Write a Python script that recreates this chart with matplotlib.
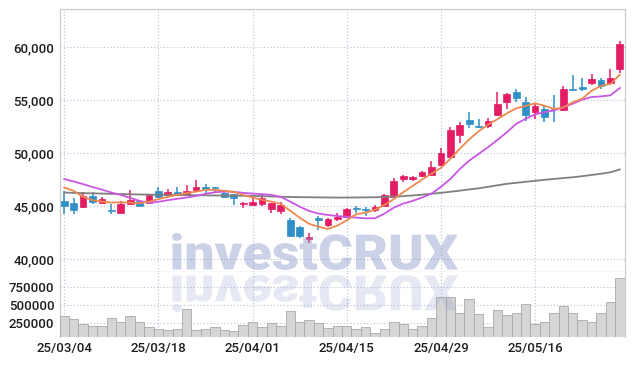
import matplotlib
matplotlib.use('Agg')
import matplotlib.pyplot as plt
from matplotlib.textpath import TextPath
from matplotlib.patches import PathPatch
from matplotlib.font_manager import FontProperties, fontManager
from matplotlib.transforms import Affine2D, IdentityTransform
from matplotlib.ticker import FuncFormatter

dates = ["25/03/04", "25/03/05", "25/03/06", "25/03/07", "25/03/10", "25/03/11", "25/03/12", "25/03/13",
         "25/03/14", "25/03/17", "25/03/18", "25/03/19", "25/03/20", "25/03/21", "25/03/24", "25/03/25",
         "25/03/26", "25/03/27", "25/03/28", "25/03/31", "25/04/01", "25/04/02", "25/04/03", "25/04/04",
         "25/04/07", "25/04/08", "25/04/09", "25/04/10", "25/04/11", "25/04/14", "25/04/15", "25/04/16",
         "25/04/17", "25/04/18", "25/04/21", "25/04/22", "25/04/23", "25/04/24", "25/04/25", "25/04/28",
         "25/04/29", "25/04/30", "25/05/02", "25/05/07", "25/05/08", "25/05/09", "25/05/12", "25/05/13",
         "25/05/14", "25/05/15", "25/05/16", "25/05/19", "25/05/20", "25/05/21", "25/05/22", "25/05/23",
         "25/05/26", "25/05/27", "25/05/28", "25/05/29"]

opens = [45483, 45293, 44885, 45958, 45265, 44630, 44373, 45170, 45455, 45322,
         46432, 46053, 46337, 46053, 46527, 46840, 46840, 46270, 46148, 45170,
         45132, 45227, 44753, 44563, 43681, 43016, 41878, 43842, 43178, 43775,
         43994, 44819, 44696, 44630, 45009, 45890, 47571, 47571, 47855, 47922,
         48899, 49592, 51717, 53074, 52571, 52600, 53548, 54810, 55730, 54782,
         53861, 54184, 54241, 54089, 56081, 56205, 56651, 56869, 56651, 57979]
highs = [46432, 45740, 46366, 46366, 45890, 45170, 45483, 46527, 45550, 46120,
         46840, 46650, 46812, 46973, 47447, 47067, 46840, 46527, 46148, 45389,
         45863, 46053, 45265, 45417, 43840, 43111, 42419, 44031, 43900, 44345,
         44848, 45037, 44915, 45104, 46176, 47666, 47922, 47855, 48330, 49278,
         50484, 52438, 52913, 53861, 53235, 53330, 55759, 55664, 56081, 55285,
         54658, 54402, 55512, 56300, 57343, 57125, 57505, 57125, 57979, 60569]
lows = [44250, 44280, 44790, 45170, 45170, 44280, 44310, 45075, 44980, 45293,
        45795, 45890, 46053, 45958, 46460, 46242, 46270, 45795, 45075, 44848,
        45037, 44980, 44316, 44280, 42100, 42001, 41527, 42760, 43045, 43586,
        43900, 44373, 44060, 44468, 44914, 45795, 47286, 47315, 47694, 47855,
        48804, 49497, 50958, 52381, 52381, 52381, 53453, 54184, 54810, 53007,
        53235, 52912, 52912, 53956, 55825, 55854, 56461, 56081, 56461, 57562]
closes = [45037, 44658, 45958, 45417, 45645, 44505, 45170, 45550, 45037, 46053,
          45890, 46337, 46176, 46432, 46840, 46650, 46689, 45890, 45795, 45293,
          45389, 45740, 45265, 45104, 42163, 42163, 42068, 43709, 43747, 43994,
          44753, 44753, 44600, 44942, 46080, 47315, 47789, 47760, 48168, 48709,
          49971, 52220, 52666, 52761, 52476, 53007, 54592, 55541, 55190, 53614,
          54402, 53387, 54117, 56081, 55949, 56044, 57030, 56300, 57087, 60285]

ma5 = [46746, 46432, 45863, 45550, 45417, 45322, 45350, 45322, 45265, 45417,
       45645, 45863, 46053, 46214, 46366, 46527, 46527, 46432, 46337, 46053,
       45795, 45578, 45417, 45200, 44550, 43900, 43320, 43045, 42830, 43150,
       43650, 44222, 44370, 44650, 45100, 45650, 46300, 46900, 47500, 48050,
       48600, 49450, 50400, 51280, 52050, 52680, 53200, 53750, 54220, 54450,
       54700, 54470, 54160, 54300, 54800, 55125, 55880, 56340, 56520, 57400]
ma10 = [47542, 47315, 47067, 46783, 46555, 46270, 46053, 45768, 45483, 45293,
        45400, 45550, 45680, 45800, 45950, 46150, 46300, 46366, 46337, 46242,
        46176, 46120, 46053, 45863, 45417, 44942, 44535, 44280, 44155, 44060,
        43980, 43900, 43840, 43840, 44280, 44848, 45227, 45483, 45795, 46176,
        46812, 47542, 48490, 49278, 49914, 50541, 51242, 51963, 52761, 53235,
        53643, 53861, 54022, 54336, 54658, 55038, 55285, 55351, 55446, 56138]
ma_long = [46271, 46242, 46214, 46195, 46176, 46148, 46129, 46110, 46091, 46072,
           46053, 46043, 46034, 46024, 46015, 46005, 45996, 45986, 45977, 45967,
           45958, 45930, 45901, 45873, 45854, 45835, 45825, 45816, 45806, 45797,
           45797, 45806, 45816, 45825, 45854, 45882, 45930, 45996, 46072, 46157,
           46242, 46346, 46451, 46565, 46669, 46811, 46954, 47096, 47191, 47286,
           47381, 47476, 47552, 47637, 47713, 47817, 47931, 48045, 48187, 48450]

volumes = [344000, 298000, 232000, 204000, 204000, 312000, 264000, 344000, 264000, 185000,
           162000, 148000, 162000, 438000, 148000, 162000, 190000, 148000, 133000, 218000,
           260000, 190000, 246000, 204000, 414000, 260000, 288000, 246000, 171000, 204000,
           204000, 157000, 185000, 101000, 166000, 264000, 227000, 166000, 199000, 312000,
           607000, 607000, 382000, 579000, 368000, 185000, 424000, 354000, 382000, 508000,
           232000, 255000, 382000, 484000, 382000, 283000, 255000, 382000, 536000, 874000]

price_ticks = [40000, 45000, 50000, 55000, 60000]
volume_ticks = [250000, 500000, 750000]
tick_idx = [0, 10, 20, 30, 40, 50]

UP = '#e31c64'
DOWN = '#2e90c6'
GRID = '#b9bfd8'
FRAME = '#cccccc'
LABEL_FONT = ['Roboto', 'DejaVu Sans']

W, H = 634, 366
fig = plt.figure(figsize=(W / 100, H / 100), dpi=100)
left, right = 60.3 / W, 625 / W
ax = fig.add_axes([left, 1 - 272 / H, right - left, (272 - 9) / H])
axv = fig.add_axes([left, 1 - 337 / H, right - left, (337 - 272) / H], sharex=ax)

x = list(range(len(closes)))
for i in x:
    o, h, l, c = opens[i], highs[i], lows[i], closes[i]
    col = UP if c >= o else DOWN
    ax.vlines(i, l, h, colors=col, linewidth=1.1, zorder=3)
    body = max(abs(c - o), 60)
    ax.bar(i, body, bottom=min(o, c), width=0.72, color=col, edgecolor=col,
           linewidth=0.5, zorder=4)

ax.plot(x, ma_long, color='#7f7f7f', linewidth=1.3, zorder=5)
ax.plot(x, ma10, color='#c957e6', linewidth=1.3, zorder=5)
ax.plot(x, ma5, color='#f0874f', linewidth=1.3, zorder=5)

axv.bar(x, volumes, width=1.0, color='#d5d5d5', edgecolor='#a9a9a9', linewidth=0.6, zorder=3)

ax.set_xlim(-0.42, 59.55)
ax.set_ylim(38770, 63600)
axv.set_ylim(50000, 962000)

ax.set_yticks(price_ticks)
ax.yaxis.set_major_formatter(FuncFormatter(lambda v, p: f"{int(v):,}"))
axv.set_yticks(volume_ticks)
axv.yaxis.set_major_formatter(FuncFormatter(lambda v, p: f"{int(v)}"))
axv.set_xticks(tick_idx)
axv.set_xticklabels([dates[i] for i in tick_idx])
ax.tick_params(axis='x', labelbottom=False, length=0)

for a in (ax, axv):
    a.grid(True, linestyle=(0, (1, 2)), color=GRID, linewidth=0.8, zorder=0)
    a.set_axisbelow(True)
    a.tick_params(length=0, colors='#1e1e1e', labelsize=9.5)
    a.tick_params(axis='y', pad=4.3)
    a.tick_params(axis='x', pad=3.6)
    for lab in a.get_xticklabels() + a.get_yticklabels():
        lab.set_family(LABEL_FONT)
        lab.set_fontweight('medium')
    for s in a.spines.values():
        s.set_color(FRAME)
        s.set_linewidth(0.9)

axv.spines['top'].set_visible(False)
axv.spines['bottom'].set_visible(False)
ax.spines['bottom'].set_color('#c4c4c4')

# watermark with reflection: pick the heaviest installed sans face
wm_fp = FontProperties(family='DejaVu Sans', weight='bold')
best = 700
for fam in ['Roboto', 'Open Sans', 'Lato', 'Inter', 'Noto Sans']:
    for f in fontManager.ttflist:
        if f.name == fam and f.style == 'normal' and isinstance(f.weight, int) \
                and f.weight > best and 'Condensed' not in f.fname and 'Italic' not in f.fname:
            best = f.weight
            wm_fp = FontProperties(fname=f.fname)
    if best >= 800:
        break

tp = TextPath((0, 0), "investCRUX", size=50, prop=wm_fp)
ext = tp.get_extents()
x0, y0, x1, y1 = ext.x0, ext.y0, ext.x1, ext.y1
sx = (458 - 172) / (x1 - x0)


def place(top_px, bot_px, flip):
    sy = (bot_px - top_px) / (y1 - y0)
    if not flip:
        return Affine2D().translate(-x0, -y0).scale(sx, sy).translate(172, H - bot_px)
    return Affine2D().translate(-x0, -y0).scale(sx, -sy).translate(172, H - top_px)


main_path = place(233, 270, False).transform_path(tp)
refl_path = place(275, 312, True).transform_path(tp)
fig.add_artist(PathPatch(main_path, facecolor='#8594c8', edgecolor='none', alpha=0.42,
                         transform=IdentityTransform(), zorder=10))
fig.add_artist(PathPatch(refl_path, facecolor='#8594c8', edgecolor='none', alpha=0.2,
                         transform=IdentityTransform(), zorder=10))

fig.savefig('out.png', dpi=100)
